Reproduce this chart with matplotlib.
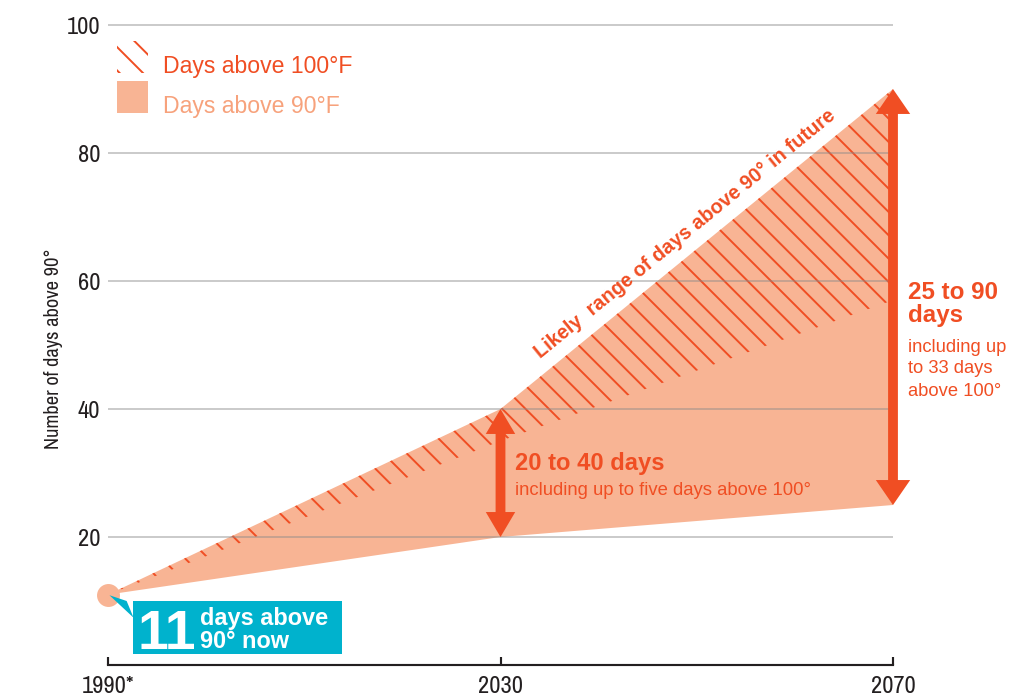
import matplotlib
matplotlib.use('Agg')
import matplotlib.pyplot as plt
from matplotlib.patches import Rectangle, Polygon
from matplotlib import font_manager
import numpy as np

# data
years = [1990, 2030, 2070]
low_90 = [11, 20, 25]        # lower bound, days above 90F
high_90 = [11, 40, 90]       # upper bound, days above 90F
low_100 = [11, 35, 57]       # lower edge of the "above 100F" share
yticks = [20, 40, 60, 80, 100]
xlabels = ['1990*', '2030', '2070']
now_value = 11

orange = '#F04E23'
salmon = '#F8B494'
salmon_txt = '#F7A27C'
teal = '#00B2CD'
dark = '#231F20'

plt.rcParams['hatch.linewidth'] = 1.0
main_font = ['Liberation Sans', 'DejaVu Sans']

# look for a condensed face for the axis labels (narrowest kinds first)
def find_narrow():
    regular = [f for f in font_manager.fontManager.ttflist
               if f.style == 'normal' and f.weight in (400, 'normal', 'regular')]
    for key in ['narrow', 'roboto condensed', 'open sans condensed', 'condensed']:
        for f in regular:
            if key in f.name.lower() or (key == 'condensed' and 'condensed' in str(f.stretch)):
                return f
    return None

narrow = find_narrow()
if narrow is not None:
    narrow_prop = font_manager.FontProperties(fname=narrow.fname)
    tick_size, ylab_size = 12.6, 10.5
else:
    narrow_prop = font_manager.FontProperties(family=main_font)
    tick_size, ylab_size = 9.0, 8.0

DPI = 140
W, H = 1013, 699
fig = plt.figure(figsize=(W / DPI, H / DPI), dpi=DPI)
ax = fig.add_axes([108 / W, 1 - 665 / H, 785 / W, 646.4 / H])
ax.set_xlim(1990, 2070)
ax.set_ylim(0, 101)

# shaded ranges
ax.fill_between(years, low_90, high_90, facecolor=salmon, linewidth=0, zorder=1)
ax.fill_between(years, low_100, high_90, facecolor='none', edgecolor=orange,
                hatch='\\\\', linewidth=0, zorder=1.5)

# axes styling
for s in ['top', 'right', 'left']:
    ax.spines[s].set_visible(False)
ax.spines['bottom'].set_color(dark)
ax.spines['bottom'].set_linewidth(1.1)
ax.set_xticks(years)
ax.set_xticklabels(xlabels)
ax.tick_params(axis='x', direction='in', length=4, width=1.1, color=dark, pad=5.5,
               labelcolor=dark)
ax.set_yticks(yticks)
ax.tick_params(axis='y', length=0, pad=4, labelcolor=dark)
for lab in ax.get_xticklabels() + ax.get_yticklabels():
    lab.set_fontproperties(narrow_prop.copy())
    lab.set_fontsize(tick_size)
ax.yaxis.grid(True, color='#8a8a8a', alpha=0.45, linewidth=1.0, zorder=2)
ax.set_axisbelow(False)
ylab = ax.set_ylabel('Number of days above 90°', color=dark, va='center',
                     fontproperties=narrow_prop.copy())
ylab.set_fontsize(ylab_size)
ax.yaxis.set_label_coords(-0.07, 0.49)

# range arrows
for yr, lo, hi, hw in [(years[1], low_90[1], high_90[1], 3.0), (years[2], low_90[2], high_90[2], 3.5)]:
    mid = (lo + hi) / 2
    for end in (lo, hi):
        ax.arrow(yr, mid, 0, end - mid, width=1.0, head_width=hw, head_length=3.9,
                 length_includes_head=True, color=orange, linewidth=0, zorder=4,
                 clip_on=False)

# annotations
ax.text(2031.5, 30.5, '20 to 40 days', fontsize=12.2, fontweight='bold',
        color=orange, family=main_font, va='baseline', zorder=5)
ax.text(2031.5, 26.6, 'including up to five days above 100°', fontsize=9.5,
        color=orange, family=main_font, va='baseline', zorder=5)
for txt, yb in [('25 to 90', 57.2), ('days', 53.6)]:
    ax.text(2071.5, yb, txt, fontsize=12.4, fontweight='bold', color=orange,
            family=main_font, va='baseline', zorder=5, clip_on=False)
for txt, yb in [('including up', 48.9), ('to 33 days', 45.6), ('above 100°', 42.0)]:
    ax.text(2071.5, yb, txt, fontsize=9.45, color=orange, family=main_font,
            va='baseline', zorder=5, clip_on=False)

slope = (high_90[2] - high_90[1]) / (years[2] - years[1])
ax.text(2048.8, 67.4, 'Likely  range of days above 90° in future', fontsize=10.3,
        fontweight='bold', color=orange, family=main_font, ha='center', va='center',
        rotation=np.degrees(np.arctan(slope)), transform_rotates_text=True,
        rotation_mode='anchor', zorder=5)

# legend
ax.add_patch(Rectangle((1990.92, 92.5), 3.16, 5.0, facecolor='white', edgecolor=orange,
                       hatch='\\\\', linewidth=0, zorder=3))
ax.add_patch(Rectangle((1990.92, 86.25), 3.16, 5.0, facecolor=salmon, linewidth=0, zorder=3))
ax.text(1995.6, 92.5, 'Days above 100°F', fontsize=11.8, color=orange,
        family=main_font, va='baseline', zorder=5)
ax.text(1995.6, 86.25, 'Days above 90°F', fontsize=11.8, color=salmon_txt,
        family=main_font, va='baseline', zorder=5)

# current value callout
ax.plot([years[0]], [now_value], 'o', markersize=11.8, color=salmon,
        markeredgewidth=0, zorder=3, clip_on=False)
ax.add_patch(Polygon([(1990.15, 10.9), (1991.9, 10.0), (1992.6, 7.4)],
                     closed=True, facecolor=teal, linewidth=0, zorder=4))
ax.add_patch(Rectangle((1992.55, 1.72), 21.3, 8.28, facecolor=teal, linewidth=0, zorder=4))
ax.text(1993.0, 2.5, str(now_value), fontsize=28.5, fontweight='bold', color='white',
        family=main_font, va='baseline', zorder=5)
ax.text(1999.4, 6.25, 'days above', fontsize=12.1, fontweight='bold', color='white',
        family=main_font, va='baseline', zorder=5)
ax.text(1999.4, 2.66, '90° now', fontsize=12.1, fontweight='bold', color='white',
        family=main_font, va='baseline', zorder=5)

fig.savefig('out.png', dpi=DPI)
